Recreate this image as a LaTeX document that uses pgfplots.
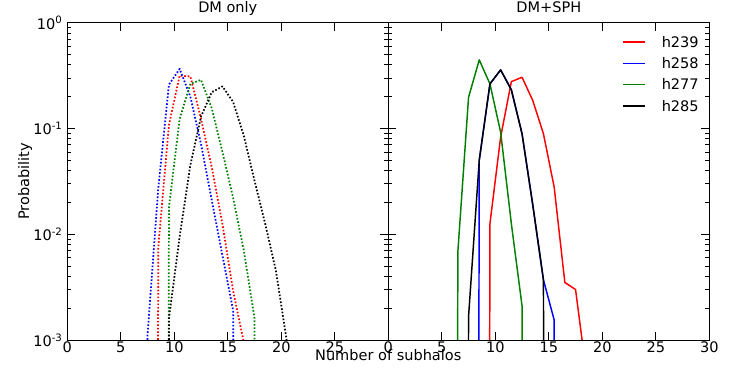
\documentclass[border=0pt]{standalone}
\usepackage{fontspec}
\setmainfont{DejaVu Sans}
\usepackage{pgfplots}
\pgfplotsset{compat=1.18}

% 1px of the reference = 0.75pt
\pgfplotsset{
  every axis/.append style={
    scale only axis, width=240.75pt, height=237.975pt,
    xmin=0, xmax=30, ymin=1e-3, ymax=1,
    xtick={0,5,...,30},
    ytick={1e-3,1e-2,1e-1,1},
    minor ytick={2e-3,3e-3,4e-3,5e-3,6e-3,7e-3,8e-3,9e-3,
                 2e-2,3e-2,4e-2,5e-2,6e-2,7e-2,8e-2,9e-2,
                 2e-1,3e-1,4e-1,5e-1,6e-1,7e-1,8e-1,9e-1},
    tick align=inside, major tick length=6pt, minor tick length=3pt,
    every tick/.style={black, line width=0.6pt},
    axis line style={line width=0.6pt},
    font=\fontsize{10.9}{13}\selectfont,
    xticklabel style={inner sep=0pt, yshift=-1pt},
    title style={at={(0.5,1)}, anchor=base, yshift=2pt},
  },
  every axis plot/.append style={line width=1.1pt, line join=round},
  dmdots/.style={line width=1.3pt, dash pattern=on 1.2pt off 1.4pt},
}

\begin{document}
\begin{tikzpicture}
\useasboundingbox (0,0) rectangle (560.25pt,280.5pt);

% zero counts are written as 1e-50 so that the line drops off the bottom, as in the original
\begin{semilogyaxis}[at={(50.475pt,25.5pt)}, anchor=south west,
  title={DM only},
  xticklabels={0,5,10,15,20,25,},
  yticklabels={10\textsuperscript{-3},10\textsuperscript{-2},10\textsuperscript{-1},10\textsuperscript{0}},
]
\addplot[red, dmdots] coordinates {(7.5,1e-50) (8.5,0.0075) (9.5,0.108) (10.5,0.316) (11.5,0.31)
  (12.5,0.123) (13.5,0.043) (14.5,0.0125) (15.5,0.0029) (16.5,0.00095) (17.5,1e-50)};
\addplot[blue, dmdots] coordinates {(6.5,1e-50) (7.5,0.0011) (8.5,0.027) (9.5,0.26) (10.5,0.366)
  (11.5,0.2) (12.5,0.071) (13.5,0.021) (14.5,0.0063) (15.5,0.0019) (16.5,1e-50)};
\addplot[green!50!black, dmdots] coordinates {(8.5,1e-50) (9.5,0.018) (10.5,0.123) (11.5,0.264)
  (12.5,0.288) (13.5,0.155) (14.5,0.06) (15.5,0.022) (16.5,0.007) (17.5,0.0016) (18.5,1e-50)};
\addplot[black, dmdots] coordinates {(8.5,1e-50) (9.5,0.0016) (10.5,0.0095) (11.5,0.045) (12.5,0.13)
  (13.5,0.22) (14.5,0.25) (15.5,0.178) (16.5,0.085) (17.5,0.032) (18.5,0.0125) (19.5,0.0045)
  (20.5,0.001) (21.5,1e-50)};
\end{semilogyaxis}

\begin{semilogyaxis}[at={(291.225pt,25.5pt)}, anchor=south west,
  title={DM+SPH},
  xticklabels={0,5,10,15,20,25,30},
  yticklabels={},
  legend cell align=left,
  legend image code/.code={\draw[#1, line width=1.1pt] (0pt,0pt) -- (16.5pt,0pt);},
  legend style={at={(0.729,0.957)}, anchor=north west, draw=none, fill=none,
    inner sep=0pt, row sep=8pt,
    nodes={inner sep=0pt, text height=8pt, text depth=0pt},
    /tikz/every odd column/.append style={column sep=11.8pt}},
]
\addplot[red] coordinates {(8.5,1e-50) (9.5,0.0126) (10.5,0.083) (11.5,0.277) (12.5,0.305)
  (13.5,0.184) (14.5,0.089) (15.5,0.028) (16.5,0.0035) (17.5,0.0030) (18.5,0.0005)};
\addlegendentry{h239}
\addplot[blue] coordinates {(7.5,1e-50) (8.5,0.05) (9.5,0.264) (10.5,0.358) (11.5,0.232)
  (12.5,0.089) (13.5,0.019) (14.5,0.0037) (15.5,0.00155) (16.5,1e-50)};
\addlegendentry{h258}
\addplot[green!50!black] coordinates {(5.5,1e-50) (6.5,0.0068) (7.5,0.197) (8.5,0.445) (9.5,0.264)
  (10.5,0.092) (11.5,0.0126) (12.5,0.0021) (13.5,1e-50)};
\addlegendentry{h277}
\addplot[black] coordinates {(6.5,1e-50) (7.5,0.00166) (8.5,0.05) (9.5,0.264) (10.5,0.358)
  (11.5,0.232) (12.5,0.089) (13.5,0.019) (14.5,0.0037) (15.5,1e-50)};
\addlegendentry{h285}
\end{semilogyaxis}

\node[font=\fontsize{10.9}{13}\selectfont] at (291.2pt,14.25pt) {Number of subhalos};
\node[font=\fontsize{10.9}{13}\selectfont, rotate=90] at (18.75pt,144.5pt) {Probability};
\end{tikzpicture}
\end{document}
